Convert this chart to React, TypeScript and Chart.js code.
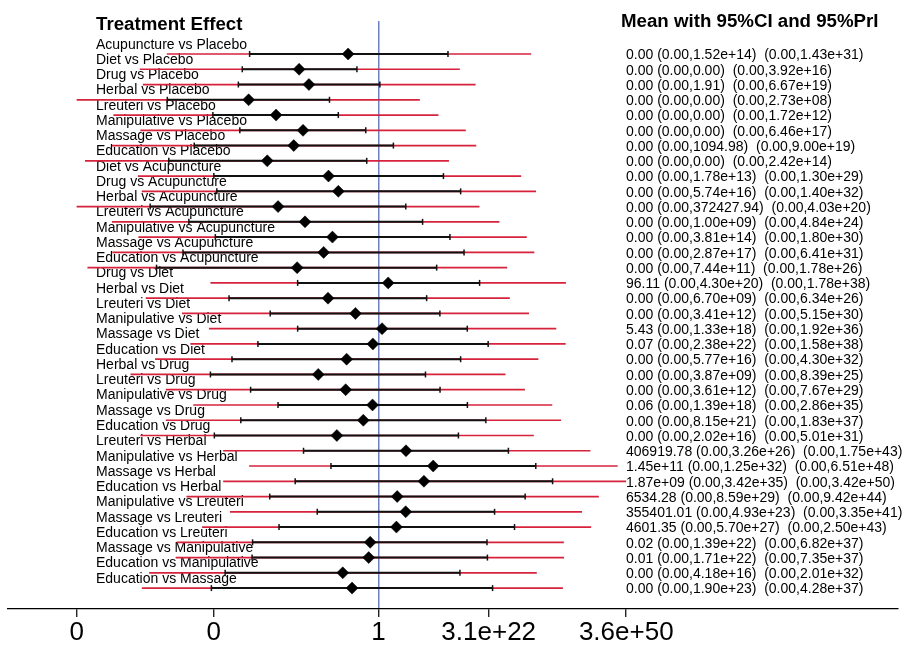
import React, { useEffect, useRef } from 'react';
import { Chart, registerables } from 'chart.js';

Chart.register(...registerables);

// Comparison names (one row each, top to bottom)
const comparisons = [
  'Acupuncture vs Placebo', 'Diet vs Placebo', 'Drug vs Placebo', 'Herbal vs Placebo',
  'Lreuteri vs Placebo', 'Manipulative vs Placebo', 'Massage vs Placebo', 'Education vs Placebo',
  'Diet vs Acupuncture', 'Drug vs Acupuncture', 'Herbal vs Acupuncture', 'Lreuteri vs Acupuncture',
  'Manipulative vs Acupuncture', 'Massage vs Acupuncture', 'Education vs Acupuncture',
  'Drug vs Diet', 'Herbal vs Diet', 'Lreuteri vs Diet', 'Manipulative vs Diet', 'Massage vs Diet',
  'Education vs Diet', 'Herbal vs Drug', 'Lreuteri vs Drug', 'Manipulative vs Drug', 'Massage vs Drug',
  'Education vs Drug', 'Lreuteri vs Herbal', 'Manipulative vs Herbal', 'Massage vs Herbal',
  'Education vs Herbal', 'Manipulative vs Lreuteri', 'Massage vs Lreuteri', 'Education vs Lreuteri',
  'Massage vs Manipulative', 'Education vs Manipulative', 'Education vs Massage',
];

// All effect values are on the log10 scale (axis is logarithmic)
const meanLog10 = [
  -6.2, -16.2, -14.2, -26.5, -20.9, -15.4, -17.3, -22.7, -10.2, -8.2, -20.5, -15.0,
  -9.4, -11.2, -16.6, 1.98, -10.3, -4.7, 0.73, -1.15, -6.5, -12.3, -6.7, -1.22,
  -3.1, -8.5, 5.61, 11.16, 9.27, 3.82, 5.55, 3.66, -1.7, -2.0, -7.3, -5.4,
];
const ciLowLog10 = [
  -26.3, -27.8, -28.6, -43.1, -33.8, -28.3, -37.6, -42.8, -33.6, -33.0, -46.6, -38.7,
  -33.3, -39.9, -45.3, -16.5, -30.5, -22.1, -16.5, -24.6, -29.9, -34.3, -26.1, -20.5,
  -28.1, -33.5, -15.3, -9.7, -17.0, -22.2, -12.5, -20.3, -25.7, -25.8, -31.3, -34.1,
];
const ciHighLog10 = [
  14.18, -4.4, 0.28, -10.0, -8.2, -2.6, 3.04, -2.4, 13.25, 16.76, 5.57, 9.0,
  14.58, 17.46, 11.87, 20.63, 9.83, 12.53, 18.12, 22.38, 16.76, 9.59, 12.56, 18.14,
  21.91, 16.31, 26.51, 32.1, 35.53, 29.93, 23.69, 27.76, 22.14, 22.23, 16.62, 23.28,
];
const priLowLog10 = [
  -43.2, -48.7, -48.1, -61.6, -54.1, -48.6, -54.4, -59.9, -49.1, -48.3, -61.6, -54.4,
  -49.0, -54.3, -59.4, -34.3, -47.5, -40.1, -34.6, -38.4, -45.6, -50.6, -43.4, -37.8,
  -43.4, -48.6, -31.7, -26.4, -31.7, -39.2, -30.3, -36.0, -41.2, -41.4, -46.8, -48.3,
];
const priHighLog10 = [
  31.16, 16.59, 19.82, 8.44, 12.24, 17.81, 19.95, 14.38, 29.11, 32.15, 20.61, 24.68,
  30.26, 31.81, 26.25, 38.25, 26.8, 30.71, 36.28, 38.2, 32.63, 25.92, 29.88, 35.46,
  37.26, 31.7, 43.24, 48.81, 50.53, 44.97, 41.53, 43.4, 37.83, 37.87, 32.3, 37.63,
];

// Text column on the right
const meanText = [
  '0.00', '0.00', '0.00', '0.00', '0.00', '0.00', '0.00', '0.00', '0.00', '0.00', '0.00', '0.00',
  '0.00', '0.00', '0.00', '96.11', '0.00', '0.00', '5.43', '0.07', '0.00', '0.00', '0.00', '0.06',
  '0.00', '0.00', '406919.78', '1.45e+11', '1.87e+09', '6534.28', '355401.01', '4601.35', '0.02', '0.01', '0.00', '0.00',
];
const ciText = [
  '(0.00,1.52e+14)', '(0.00,0.00)', '(0.00,1.91)', '(0.00,0.00)', '(0.00,0.00)', '(0.00,0.00)',
  '(0.00,1094.98)', '(0.00,0.00)', '(0.00,1.78e+13)', '(0.00,5.74e+16)', '(0.00,372427.94)', '(0.00,1.00e+09)',
  '(0.00,3.81e+14)', '(0.00,2.87e+17)', '(0.00,7.44e+11)', '(0.00,4.30e+20)', '(0.00,6.70e+09)', '(0.00,3.41e+12)',
  '(0.00,1.33e+18)', '(0.00,2.38e+22)', '(0.00,5.77e+16)', '(0.00,3.87e+09)', '(0.00,3.61e+12)', '(0.00,1.39e+18)',
  '(0.00,8.15e+21)', '(0.00,2.02e+16)', '(0.00,3.26e+26)', '(0.00,1.25e+32)', '(0.00,3.42e+35)', '(0.00,8.59e+29)',
  '(0.00,4.93e+23)', '(0.00,5.70e+27)', '(0.00,1.39e+22)', '(0.00,1.71e+22)', '(0.00,4.18e+16)', '(0.00,1.90e+23)',
];
const priText = [
  '(0.00,1.43e+31)', '(0.00,3.92e+16)', '(0.00,6.67e+19)', '(0.00,2.73e+08)', '(0.00,1.72e+12)', '(0.00,6.46e+17)',
  '(0.00,9.00e+19)', '(0.00,2.42e+14)', '(0.00,1.30e+29)', '(0.00,1.40e+32)', '(0.00,4.03e+20)', '(0.00,4.84e+24)',
  '(0.00,1.80e+30)', '(0.00,6.41e+31)', '(0.00,1.78e+26)', '(0.00,1.78e+38)', '(0.00,6.34e+26)', '(0.00,5.15e+30)',
  '(0.00,1.92e+36)', '(0.00,1.58e+38)', '(0.00,4.30e+32)', '(0.00,8.39e+25)', '(0.00,7.67e+29)', '(0.00,2.86e+35)',
  '(0.00,1.83e+37)', '(0.00,5.01e+31)', '(0.00,1.75e+43)', '(0.00,6.51e+48)', '(0.00,3.42e+50)', '(0.00,9.42e+44)',
  '(0.00,3.35e+41)', '(0.00,2.50e+43)', '(0.00,6.82e+37)', '(0.00,7.35e+37)', '(0.00,2.01e+32)', '(0.00,4.28e+37)',
];

// Axis ticks (log10 positions) and their labels
const tickValues = [-61.6, -33.6, 0, 22.49, 50.56];
const tickLabels = ['0', '0', '1', '3.1e+22', '3.6e+50'];

const titleLeft = 'Treatment Effect';
const titleRight = 'Mean with 95%CI and 95%PrI';

const FONT = '"Liberation Sans", Arial, Helvetica, sans-serif';
const RED = '#d6223b';
const DARK = '#111111';
const BLUE = 'rgb(110,128,196)';

const X_MIN = -75.61;
const X_MAX = 106.02;
const Y_MIN = -1.163;
const Y_MAX = 37.37;

export default function App() {
  const ref = useRef<HTMLCanvasElement>(null);

  useEffect(() => {
    if (!ref.current) return;
    const rows = comparisons.map((_, i) => i + 1);

    const textPlugin = {
      id: 'forestText',
      beforeDatasetsDraw(chart: any) {
        const ctx = chart.ctx;
        const ys = chart.scales.y;
        ctx.save();
        ctx.fillStyle = '#000';
        ctx.textAlign = 'left';
        ctx.textBaseline = 'alphabetic';
        ctx.font = `bold 18.7px ${FONT}`;
        ctx.fillText(titleLeft, 96, 30);
        ctx.fillText(titleRight, 621, 26.7);
        ctx.font = `14px ${FONT}`;
        comparisons.forEach((name, i) => {
          const py = ys.getPixelForValue(rows[i]);
          ctx.fillText(name, 96, py - 5.5);
          ctx.fillText(`${meanText[i]} ${ciText[i]}  ${priText[i]}`, 626, py + 5.3);
        });
        ctx.restore();
      },
    };

    const chart = new Chart(ref.current, {
      type: 'scatter',
      data: {
        datasets: [
          {
            type: 'scatter',
            data: rows.map((r, i) => ({ x: meanLog10[i], y: r })),
            pointStyle: 'rectRot',
            pointRadius: 6,
            pointBackgroundColor: '#000',
            pointBorderColor: '#000',
            pointBorderWidth: 0.5,
            order: 1,
          } as any,
          {
            type: 'scatter',
            data: rows.flatMap((r, i) => [
              { x: ciLowLog10[i], y: r },
              { x: ciHighLog10[i], y: r },
            ]),
            pointStyle: 'line',
            pointRotation: 90,
            pointRadius: 3,
            pointBorderColor: DARK,
            pointBorderWidth: 1.5,
            order: 2,
          } as any,
          {
            type: 'bar',
            indexAxis: 'y',
            data: rows.map((r, i) => ({ y: r, x: [ciLowLog10[i], ciHighLog10[i]] })),
            backgroundColor: DARK,
            borderWidth: 0,
            grouped: false,
            maxBarThickness: 2,
            inflateAmount: 0,
            order: 3,
          } as any,
          {
            type: 'bar',
            indexAxis: 'y',
            data: rows.map((r, i) => ({ y: r, x: [priLowLog10[i], priHighLog10[i]] })),
            backgroundColor: RED,
            borderWidth: 0,
            grouped: false,
            maxBarThickness: 1.7,
            inflateAmount: 0,
            order: 4,
          } as any,
        ],
      },
      options: {
        animation: false,
        responsive: false,
        devicePixelRatio: 1,
        layout: { padding: { left: 8, right: 7, top: 21, bottom: 0 } },
        plugins: { legend: { display: false }, tooltip: { enabled: false } },
        scales: {
          x: {
            type: 'linear',
            min: X_MIN,
            max: X_MAX,
            offset: false,
            beginAtZero: false,
            z: 1,
            afterBuildTicks: (s: any) => {
              s.ticks = tickValues.map((v) => ({ value: v }));
            },
            afterFit: (s: any) => {
              s.height = 38;
            },
            grid: {
              drawOnChartArea: true,
              offset: false,
              color: (c: any) => (c.tick && c.tick.value === 0 ? BLUE : 'rgba(0,0,0,0)'),
              lineWidth: 1.5,
              tickColor: '#000',
              tickLength: 8,
              tickWidth: 1.2,
            },
            border: { display: true, color: '#000', width: 1.2 },
            ticks: {
              font: { family: FONT, size: 26 },
              color: '#000',
              padding: 0,
              maxRotation: 0,
              autoSkip: false,
              callback: (_v: any, i: number) => tickLabels[i],
            },
          },
          y: {
            type: 'linear',
            display: false,
            reverse: true,
            offset: false,
            grid: { offset: false },
            min: Y_MIN,
            max: Y_MAX,
          },
        },
      } as any,
      plugins: [textPlugin],
    });

    return () => chart.destroy();
  }, []);

  return (
    <div style={{ position: 'absolute', left: 0, top: 0, width: 905, height: 647 }}>
      <canvas ref={ref} width={905} height={647} style={{ display: 'block', width: 905, height: 647 }} />
    </div>
  );
}
